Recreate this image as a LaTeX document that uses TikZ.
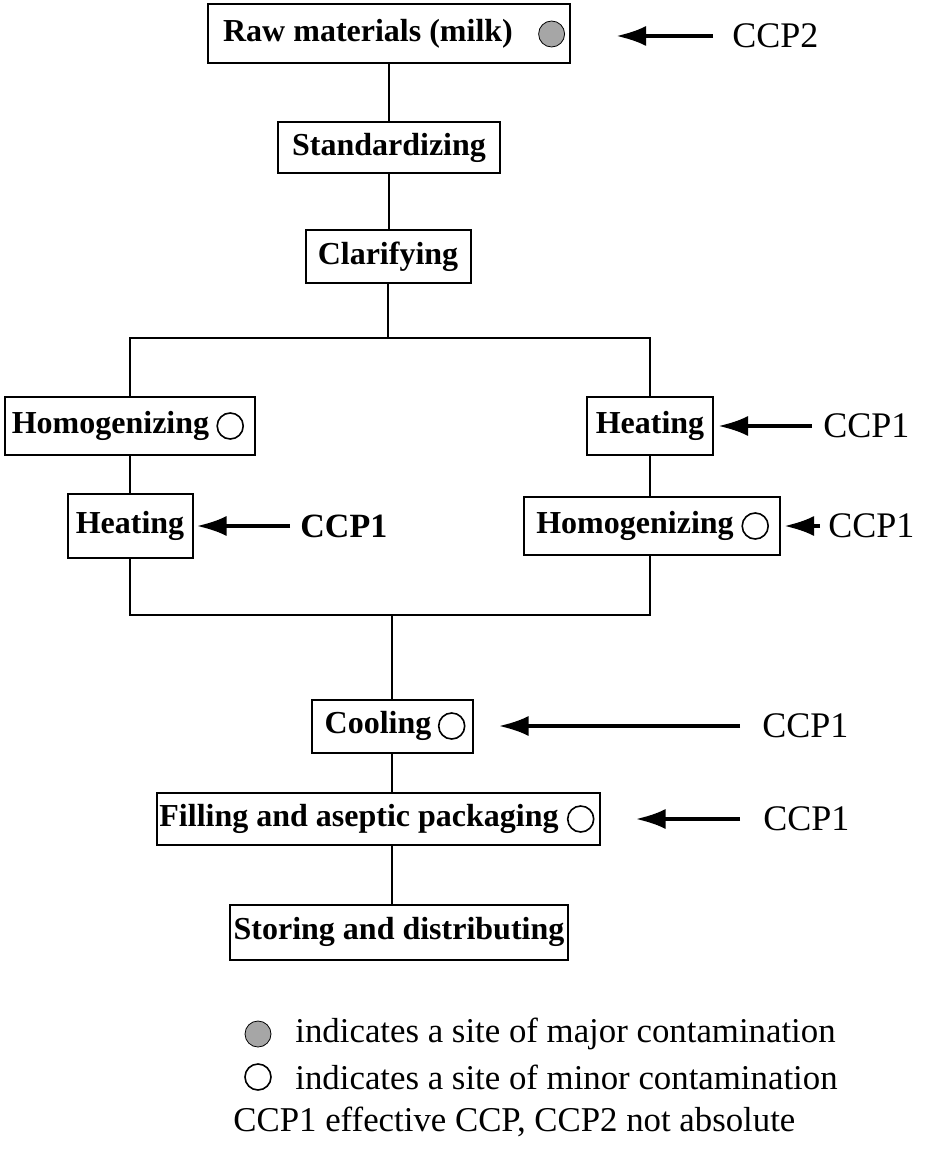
\documentclass[tikz,border=0pt]{standalone}
\usepackage{fontspec}
\setmainfont{Liberation Serif}
\usepackage{tikz}
\usetikzlibrary{positioning,arrows.meta}

\begin{document}
\begin{tikzpicture}[x=0.5pt, y=-0.5pt]
  \tikzstyle{stage} = [rectangle, draw, line width=1pt, inner sep=0pt, font=\fontsize{16}{18}\selectfont\bfseries]
  \tikzstyle{major} = [circle, draw, fill=gray!70, minimum size=13pt, inner sep=0pt, anchor=east]
  \tikzstyle{minor} = [circle, draw, line width=0.8pt, minimum size=13pt, inner sep=0pt, anchor=east]
  \tikzstyle{ccp} = [inner sep=0pt, anchor=west, font=\fontsize{18}{20}\selectfont]
  \tikzstyle{ccpb} = [inner sep=0pt, anchor=west, font=\fontsize{17}{19}\selectfont\bfseries]
  \tikzstyle{link} = [line width=0.8pt]
  \tikzstyle{ccparrow} = [line width=2pt, -{Latex[length=15pt,width=10pt]}]
  \tikzstyle{legend} = [inner sep=0pt, anchor=west, font=\fontsize{17.4}{20}\selectfont]

  \useasboundingbox (0,0) rectangle (934,1154);

  % process stages
  \node[stage, minimum width=181pt, minimum height=29.5pt] (raw) at (389,34) {Raw materials (milk)\hspace{21pt}\null};
  \node[stage, minimum width=111pt, minimum height=25.5pt] (std) at (389,148) {Standardizing};
  \node[stage, minimum width=82.5pt, minimum height=26.5pt] (cla) at (388,257) {Clarifying};

  \node[stage, minimum width=125pt, minimum height=29pt] (homl) at (130,426) {Homogenizing\hspace{19.5pt}\null};
  \node[stage, minimum width=62.5pt, minimum height=32pt] (heal) at (130,526) {Heating};

  \node[stage, minimum width=63pt, minimum height=29pt] (hear) at (650,426) {Heating};
  \node[stage, minimum width=128pt, minimum height=29pt] (homr) at (652,526) {Homogenizing\hspace{17pt}\null};

  \node[stage, minimum width=80.5pt, minimum height=26.5pt] (cool) at (392,726) {Cooling\hspace{14pt}\null};
  \node[stage, minimum width=221.5pt, minimum height=26pt] (fill) at (378,819) {Filling and aseptic packaging\hspace{19pt}\null};
  \node[stage, minimum width=169pt, minimum height=27.5pt] (store) at (399,932) {Storing and distributing};

  % contamination marks
  \node[major] (rawdot) at ([xshift=-3pt]raw.east) {};
  \node[minor] (homldot) at ([xshift=-6pt]homl.east) {};
  \node[minor] (homrdot) at ([xshift=-6pt]homr.east) {};
  \node[minor] (cooldot) at ([xshift=-4pt]cool.east) {};
  \node[minor] (filldot) at ([xshift=-3pt]fill.east) {};

  % branch points
  \coordinate (splitl) at (130,338);
  \coordinate (splitr) at (650,338);
  \coordinate (mergel) at (130,615);
  \coordinate (merger) at (650,615);

  \draw[link] (raw) -- (std);
  \draw[link] (std) -- (cla.north -| std.south);
  \draw[link] (cla.south) -- (cla.south |- splitl);
  \draw[link] (homl.north) -- (splitl) -- (splitr) -- (hear.north);
  \draw[link] (homl) -- (heal);
  \draw[link] (hear.south) -- (hear.south |- homr.north);
  \draw[link] (heal.south) -- (mergel) -- (merger) -- (merger |- homr.south);
  \draw[link] (cool.north |- mergel) -- (cool.north);
  \draw[link] (cool.south) -- (cool.south |- fill.north);
  \draw[link] (cool.south |- fill.south) -- (cool.south |- store.north);

  % critical control points
  \node[ccp] (ccpraw) at (732,36) {CCP2};
  \node[ccp] (ccphear) at (823,426) {CCP1};
  \node[ccpb] (ccpheal) at (300,526) {CCP1};
  \node[ccp] (ccphomr) at (828,526) {CCP1};
  \node[ccp] (ccpcool) at (762,726) {CCP1};
  \node[ccp] (ccpfill) at (763,819) {CCP1};

  \draw[ccparrow, shorten <=9.5pt, shorten >=22.5pt] (ccpraw.west) -- (ccpraw.west -| raw.east);
  \draw[ccparrow, shorten <=5.5pt, shorten >=2pt] (ccphear.west) -- (hear.east);
  \draw[ccparrow, shorten <=5pt, shorten >=1.5pt] (ccpheal.west) -- (heal.east);
  \draw[ccparrow, shorten <=4pt, shorten >=1.5pt] (ccphomr.west) -- (homr.east);
  \draw[ccparrow, shorten <=11pt, shorten >=12.5pt] (ccpcool.west) -- (cool.east);
  \draw[ccparrow, shorten <=11.5pt, shorten >=17.5pt] (ccpfill.west) -- (fill.east);

  % legend
  \node[major, anchor=center] (majkey) at (258,1034) {};
  \node[legend] (majtext) at (295,1034) {indicates a site of major contamination};
  \node[minor, anchor=center] (minkey) at (258,1077) {};
  \node[legend] (mintext) at (295,1077) {indicates a site of minor contamination};
  \node[legend] (ccpnote) at (233,1122) {CCP1 effective CCP, CCP2 not absolute};
\end{tikzpicture}
\end{document}
